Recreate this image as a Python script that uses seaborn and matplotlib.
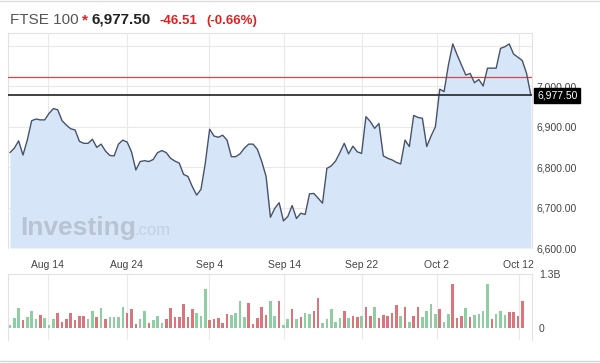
import numpy as np
import pandas as pd
import matplotlib
matplotlib.use("Agg")
import matplotlib.pyplot as plt
import matplotlib.transforms as mtransforms
from matplotlib.lines import Line2D
import seaborn as sns

# ---------------- data ----------------
title_name = "FTSE 100"
last_price = 6977.50
prev_close = 7024.01
change_abs = "-46.51"
change_pct = "(-0.66%)"

price = [6836, 6847, 6865, 6830, 6867, 6915, 6919, 6917, 6917, 6933, 6945, 6942,
         6915, 6904, 6895, 6892, 6864, 6859, 6859, 6869, 6849, 6857, 6840, 6829,
         6828, 6857, 6867, 6862, 6838, 6793, 6814, 6816, 6814, 6819, 6836, 6841,
         6836, 6822, 6815, 6810, 6782, 6777, 6752, 6731, 6745, 6810, 6894, 6877,
         6874, 6879, 6867, 6826, 6826, 6833, 6847, 6857, 6857, 6844, 6814, 6777,
         6676, 6698, 6712, 6667, 6678, 6705, 6673, 6686, 6683, 6734, 6735, 6723,
         6711, 6797, 6803, 6815, 6836, 6859, 6833, 6852, 6838, 6834, 6925, 6913,
         6896, 6908, 6828, 6822, 6818, 6812, 6808, 6867, 6851, 6928, 6923, 6921,
         6851, 6877, 6900, 6993, 6987, 7053, 7105, 7078, 7053, 7028, 7032, 7009,
         7017, 7001, 7045, 7045, 7045, 7094, 7098, 7105, 7080, 7072, 7064, 7032,
         6977.5]

volume_b = [0.08, 0.24, 0.49, 0.18, 0.26, 0.40, 0.21, 0.31, 0.24, 0.06, 0.21, 0.35,
            0.14, 0.22, 0.35, 0.18, 0.29, 0.30, 0.21, 0.42, 0.26, 0.49, 0.21, 0.26,
            0.26, 0.26, 0.51, 0.35, 0.46, 0.09, 0.22, 0.40, 0.11, 0.18, 0.30, 0.11,
            0.22, 0.49, 0.26, 0.26, 0.58, 0.26, 0.46, 0.35, 0.29, 0.95, 0.18, 0.22,
            0.24, 0.13, 0.33, 0.32, 0.35, 0.64, 0.26, 0.61, 0.09, 0.25, 0.51, 0.32,
            0.64, 0.29, 0.64, 0.08, 0.22, 0.45, 0.21,
            0.26, 0.37, 0.33, 0.41, 0.73, 0.11, 0.22, 0.45, 0.15, 0.25, 0.40, 0.24,
            0.29, 0.27, 0.29, 0.51, 0.29, 0.51, 0.24, 0.31, 0.30, 0.35, 0.56, 0.30,
            0.51, 0.14, 0.30, 0.51, 0.26, 0.42, 0.58, 0.33, 0.46, 0.14, 0.34, 1.06,
            0.24, 0.30, 0.49, 0.26, 0.31, 0.33, 0.40, 1.06, 0.22, 0.34, 0.40, 0.32,
            0.38, 0.38, 0.30, 0.66]

volume_dir = list("GGGRGGGRGGGRRRRRRRGGRGRGGGGRRRGGRGGGRRRRRRRGGGRRRRRGGGGRRRRRGGRGGRG"
                  "RGGRRGGGGGRGRRGRRGRRRRRGRGRRGGGGRGGRRRGRGGGGRGGGRRRR")

date_labels = ["Aug 14", "Aug 24", "Sep 4", "Sep 14", "Sep 22", "Oct 2", "Oct 12"]
date_pos = [8.7, 26.9, 45.9, 63.2, 81.1, 98.3, 117.2]

price_ticks = [6600, 6700, 6800, 6900, 7000, 7100]

# ---------------- style ----------------
sns.set_style("white")
plt.rcParams["font.family"] = ["Liberation Sans", "DejaVu Sans"]

GRID = "#e9e9e9"
LINE = "#46526a"
FILL = "#d6e6f8"
GREEN = "#8fcea3"
RED = "#d8767b"
TXT = "#444444"

W, H = 600, 363
fig = plt.figure(figsize=(6, 3.63), dpi=100)
fig.patch.set_facecolor("white")

ax = fig.add_axes([8 / W, 1 - 248 / H, 524 / W, (248 - 33) / H])
axv = fig.add_axes([8 / W, 1 - 340 / H, 524 / W, (340 - 274) / H])

df = pd.DataFrame({"i": np.arange(len(price)), "price": price})
dv = pd.DataFrame({"i": np.arange(len(volume_b)), "vol": np.array(volume_b) * 1e9,
                   "dir": volume_dir[:len(volume_b)]})

# ---------------- price panel ----------------
ax.fill_between(df["i"], df["price"], 6600, color=FILL, lw=0, zorder=1)
sns.lineplot(data=df, x="i", y="price", ax=ax, color=LINE, lw=1.0, zorder=4)
ax.axhline(prev_close, color="#d04848", lw=0.9, zorder=3)
ax.axhline(last_price, color="#333333", lw=1.3, zorder=5)

xlim = (-0.45, len(price) - 1 + 0.25)
ax.set_xlim(*xlim)
ax.set_ylim(6600, 7132)
ax.set_yticks(price_ticks)
ax.set_yticklabels([f"{v:,.2f}" if v < 7100 else "" for v in price_ticks])
ax.yaxis.tick_right()
ax.set_xticks(date_pos)
ax.set_xticklabels(date_labels)
ax.tick_params(axis="both", length=0, labelsize=7.5, labelcolor=TXT)
ax.tick_params(axis="x", pad=9)
ax.tick_params(axis="y", pad=3)
ax.grid(True, color=GRID, lw=0.8, zorder=0)
ax.set_axisbelow(True)
ax.set_xlabel("")
ax.set_ylabel("")
for s in ["top", "left", "right"]:
    ax.spines[s].set_color("#e2e2e2")
    ax.spines[s].set_linewidth(0.8)
ax.spines["bottom"].set_visible(False)

# watermark
ax.text(12 / 524, 13 / 215, "Investing", transform=ax.transAxes, fontsize=19,
        fontweight="bold", color="#b9c3d3", zorder=2, va="baseline")
ax.text(127 / 524, 13 / 215, ".com", transform=ax.transAxes, fontsize=12,
        color="#c4d0e2", zorder=2, va="baseline")

# last-price box
trans = mtransforms.blended_transform_factory(ax.transAxes, ax.transData)
ax.text(1.0 + 5 / 524, last_price, f"{last_price:,.2f}", transform=trans,
        fontsize=7.5, color="white", va="center", ha="left", zorder=6,
        bbox=dict(boxstyle="square,pad=0.25", fc="black", ec="black"),
        clip_on=False)

# ---------------- volume panel ----------------
sns.barplot(data=dv, x="i", y="vol", hue="dir", palette={"G": GREEN, "R": RED},
            dodge=False, width=0.6, legend=False, errorbar=None, ax=axv,
            saturation=1, linewidth=0, zorder=3)
axv.set_xlim(*xlim)
axv.set_ylim(-0.29e9, 1.3e9)
axv.set_yticks([0, 1.3e9])
axv.set_yticklabels(["0", "1.3B"])
axv.yaxis.tick_right()
axv.set_xticks(date_pos)
axv.set_xticklabels([])
axv.tick_params(axis="both", length=0, labelsize=7.5, labelcolor=TXT, pad=5)
axv.xaxis.grid(True, color=GRID, lw=0.8)
axv.yaxis.grid(False)
axv.set_axisbelow(True)
axv.set_xlabel("")
axv.set_ylabel("")
for s in ["top", "left", "right"]:
    axv.spines[s].set_color("#e2e2e2")
    axv.spines[s].set_linewidth(0.8)
axv.spines["bottom"].set_visible(False)

# ---------------- header ----------------
yb = 1 - 24 / H
fig.text(10 / W, yb, title_name, fontsize=11, color="#555555", va="baseline")
fig.text(82 / W, yb, "*", fontsize=11, color="#e02020", fontweight="bold", va="baseline")
fig.text(92 / W, yb, f"{last_price:,.2f}", fontsize=11, color="#222222",
         fontweight="bold", va="baseline")
fig.text(159 / W, yb, change_abs, fontsize=9.5, color="#e02020", fontweight="bold",
         va="baseline")
fig.text(206 / W, yb, change_pct, fontsize=9.5, color="#e02020", fontweight="bold",
         va="baseline")

fig.add_artist(Line2D([0, 1], [1 - 0.8 / H, 1 - 0.8 / H], transform=fig.transFigure,
                      color="#dddddd", lw=1))
fig.add_artist(Line2D([0, 1], [1 - 361 / H, 1 - 361 / H], transform=fig.transFigure,
                      color="#d5d5d5", lw=1))

fig.savefig("out.png", dpi=100, facecolor="white")
